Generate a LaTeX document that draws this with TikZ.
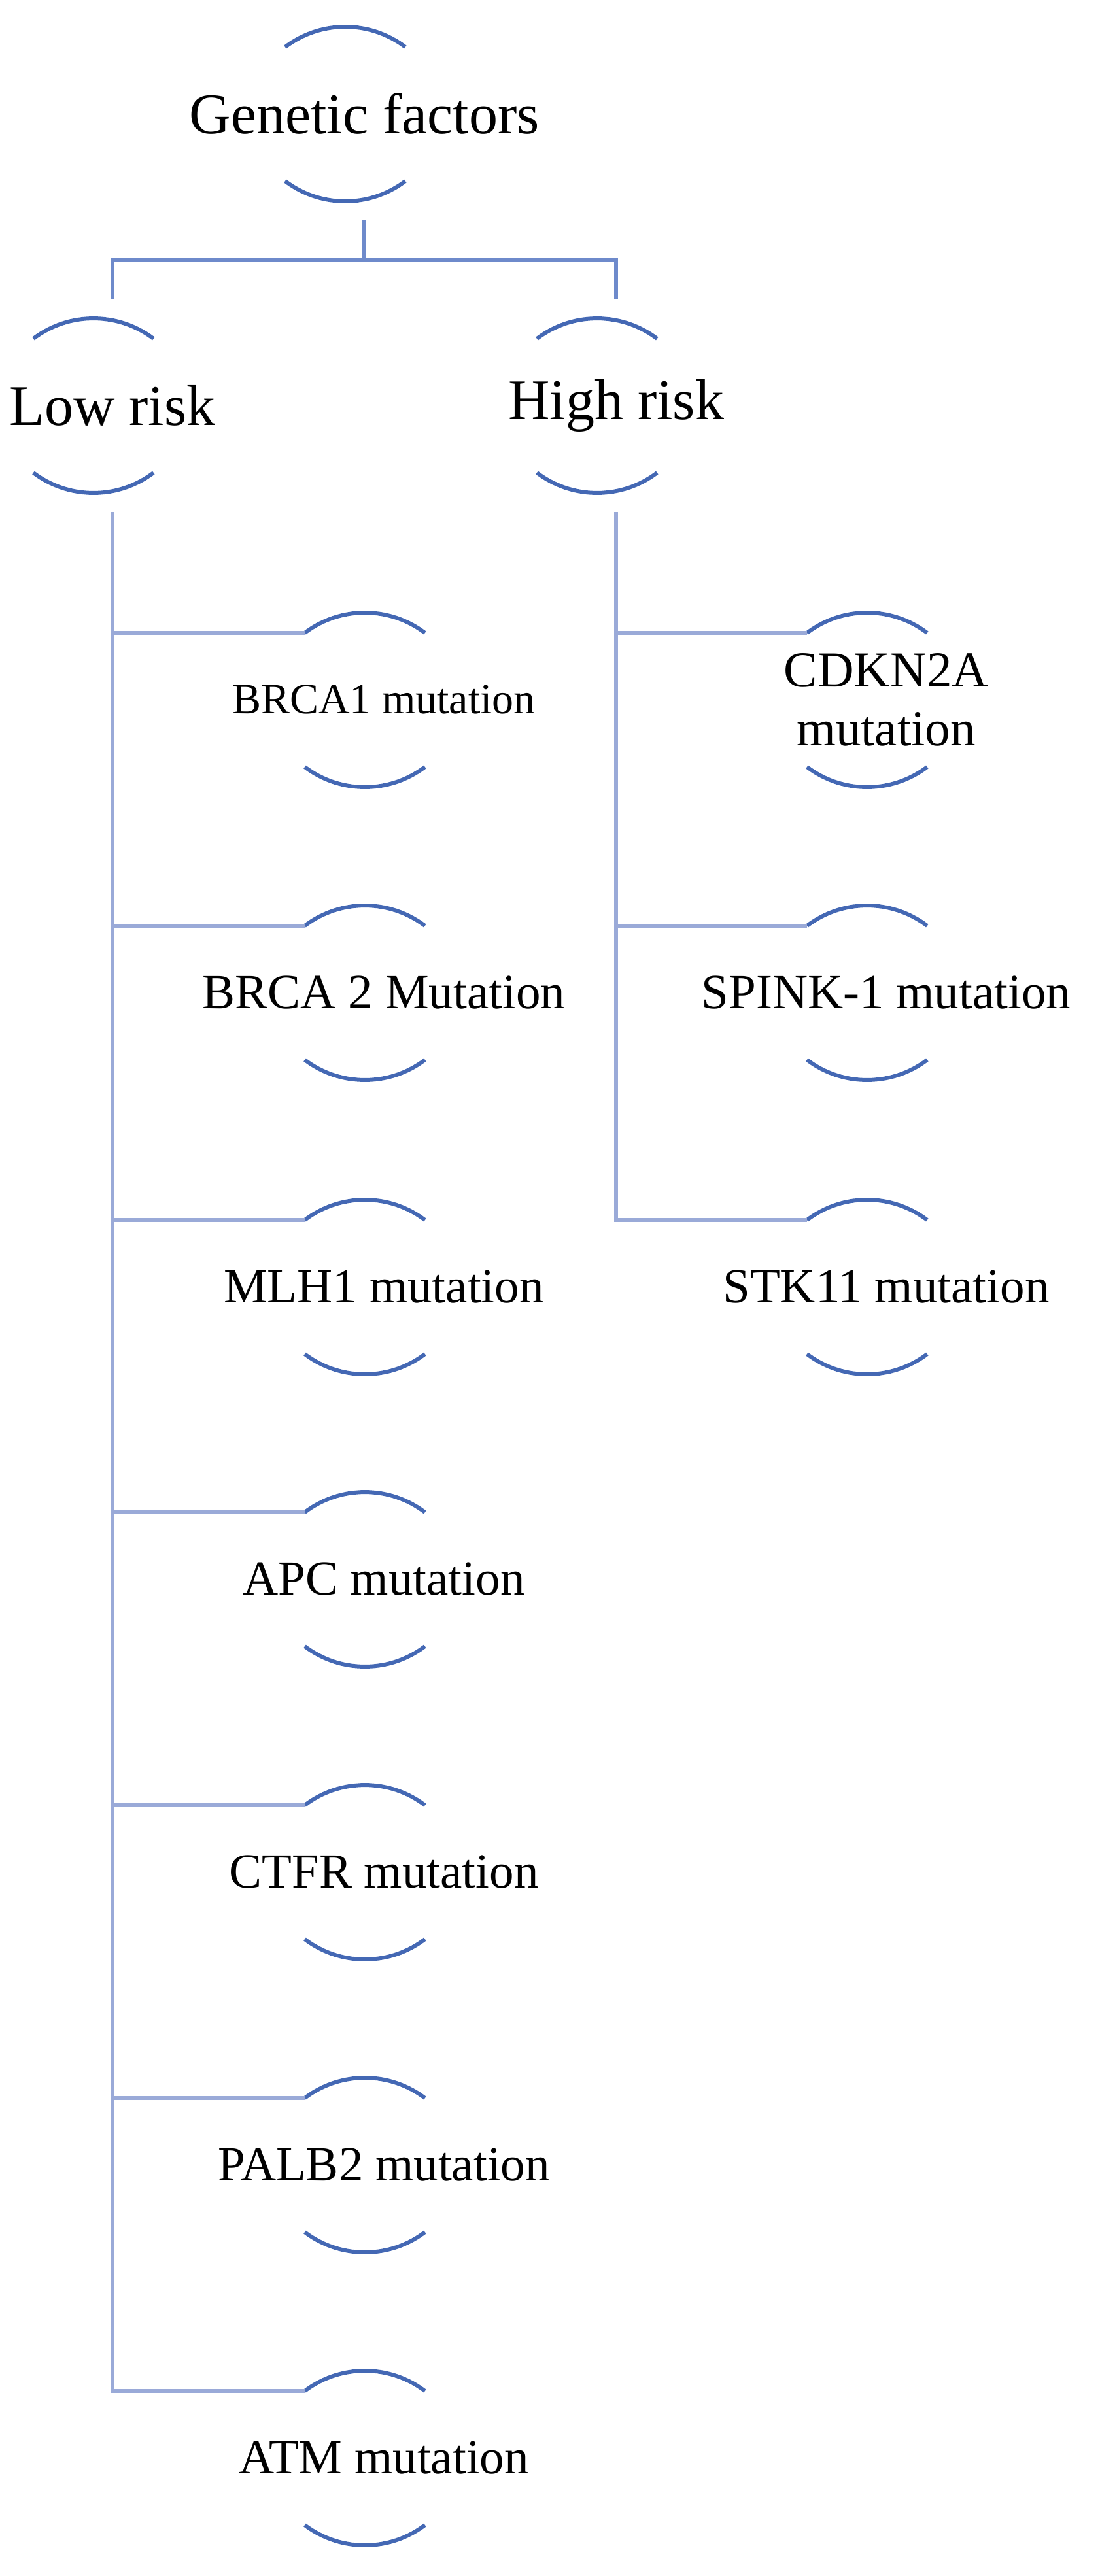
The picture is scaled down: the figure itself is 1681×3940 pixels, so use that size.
\documentclass[tikz,border=0pt]{standalone}
\usepackage{fontspec}
\setmainfont{Liberation Serif}
\definecolor{arcc}{HTML}{4468B4}
\definecolor{linec}{HTML}{9AAAD8}
\definecolor{barc}{HTML}{6E8ACB}
\tikzset{
  arcline/.style={draw=arcc,line width=6pt},
  conn/.style={draw=linec,line width=6pt},
  bar/.style={draw=barc,line width=6pt},
  lbl/.style={inner sep=0pt,align=center,text=black},
}
\newcommand{\gnode}[5]{%
  \coordinate (#1-tl) at (#2-121,-#3);
  \coordinate (#1-t) at (#2,-#3+60);
  \coordinate (#1-b) at (#2,-#3-205-60);
  \node[lbl,font=\fontsize{#5}{90}\selectfont] (#1) at (#2,-#3-102) {#4};
  \draw[arcline] (#1-tl) arc (127.2:52.8:152);
  \draw[arcline] (#2-121,-#3-205) arc (232.8:307.2:152);
}
\begin{document}
\begin{tikzpicture}[x=1pt,y=1pt]
\useasboundingbox (0,0) rectangle (1681,-3940);
\gnode{gen}{557}{72}{Genetic factors}{88}
\gnode{low}{172}{518}{Low risk}{88}
\gnode{high}{942}{518}{High risk}{88}
\gnode{brca1}{587}{968}{BRCA1 mutation}{66}
\gnode{brca2}{587}{1416}{BRCA 2 Mutation}{75}
\gnode{mlh1}{587}{1866}{MLH1 mutation}{75}
\gnode{apc}{587}{2313}{APC mutation}{75}
\gnode{ctfr}{587}{2761}{CTFR mutation}{75}
\gnode{palb2}{587}{3209}{PALB2 mutation}{75}
\gnode{atm}{587}{3657}{ATM mutation}{75}
\gnode{cdkn}{1355}{968}{CDKN2A\\mutation}{77}
\gnode{spink}{1355}{1416}{SPINK-1 mutation}{75}
\gnode{stk}{1355}{1866}{STK11 mutation}{75}
\coordinate (barmid) at (557,-398);
\draw[bar] (gen-b) -- (barmid);
\draw[bar] (barmid) -| (low-t);
\draw[bar] (barmid) -| (high-t);
\foreach \c in {brca1,brca2,mlh1,apc,ctfr,palb2,atm}
  \draw[conn] (low-b) |- (\c-tl);
\foreach \c in {cdkn,spink,stk}
  \draw[conn] (high-b) |- (\c-tl);
\end{tikzpicture}
\end{document}
